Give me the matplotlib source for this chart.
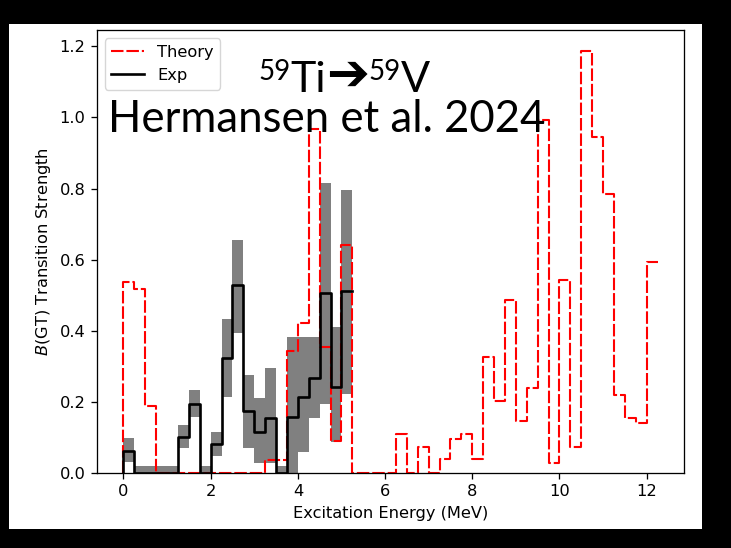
import matplotlib

matplotlib.use("Agg")
import matplotlib.pyplot as plt  # noqa: E402
import numpy as np  # noqa: E402
from matplotlib.patches import Rectangle  # noqa: E402

BIN_WIDTH = 0.25  # MeV

# shell-model B(GT) per 0.25 MeV bin, starting at 0 MeV
theory_bgt = [
    0.537, 0.517, 0.188, 0.0, 0.0, 0.0, 0.0, 0.0, 0.0, 0.0,
    0.0, 0.0, 0.0, 0.035, 0.035, 0.342, 0.423, 0.967, 0.355, 0.089,
    0.642, 0.0, 0.0, 0.0, 0.0, 0.108, 0.0, 0.072, 0.0, 0.040,
    0.096, 0.108, 0.040, 0.325, 0.202, 0.487, 0.147, 0.238, 0.993, 0.028,
    0.542, 0.072, 1.186, 0.944, 0.785, 0.219, 0.153, 0.141, 0.593,
]

# measured B(GT) and its uncertainty band, same binning
exp_bgt = [
    0.062, 0.0, 0.0, 0.0, 0.0, 0.101, 0.195, 0.0, 0.082, 0.323,
    0.529, 0.175, 0.116, 0.155, 0.0, 0.157, 0.212, 0.268, 0.505, 0.242,
    0.511,
]
exp_low = [
    0.031, 0.0, 0.0, 0.0, 0.0, 0.069, 0.157, 0.0, 0.047, 0.214,
    0.393, 0.069, 0.028, 0.028, 0.0, 0.0, 0.059, 0.153, 0.193, 0.087,
    0.222,
]
exp_high = [
    0.098, 0.020, 0.020, 0.020, 0.020, 0.134, 0.232, 0.020, 0.116, 0.433,
    0.655, 0.275, 0.210, 0.295, 0.020, 0.382, 0.382, 0.382, 0.816, 0.409,
    0.797,
]

x_ticks = [0, 2, 4, 6, 8, 10, 12]
y_ticks = [0.0, 0.2, 0.4, 0.6, 0.8, 1.0, 1.2]

W, H = 731, 548
SCALE = 1.17  # plot was exported larger than the default style

plt.rcParams.update({
    "font.size": 10 * SCALE,
    "axes.linewidth": 0.8 * SCALE,
    "axes.labelpad": 4.0 * SCALE,
    "xtick.major.size": 3.5 * SCALE,
    "ytick.major.size": 3.5 * SCALE,
    "xtick.major.width": 0.8 * SCALE,
    "ytick.major.width": 0.8 * SCALE,
    "xtick.major.pad": 3.5 * SCALE,
    "ytick.major.pad": 3.5 * SCALE,
})


def px(x, y):
    """pixel position (from top-left) -> figure fraction"""
    return x / W, 1 - y / H


def text_run(fig, x, y, pieces, renderer):
    """draw text pieces one after another along a line"""
    for s, size, dy, family in pieces:
        t = fig.text(x, y + dy / H, s, fontsize=size, family=family,
                     va="baseline", ha="left", color="black", zorder=5)
        x += t.get_window_extent(renderer).width / W


theory_edges = np.arange(len(theory_bgt) + 1) * BIN_WIDTH
exp_edges = np.arange(len(exp_bgt) + 1) * BIN_WIDTH

fig = plt.figure(figsize=(W / 100, H / 100), dpi=100, facecolor="black")
fig.patches.append(Rectangle(px(9, 529), 693 / W, 505 / H,
                             transform=fig.transFigure, facecolor="white",
                             edgecolor="none", zorder=-1))

ax = fig.add_axes((0.1324, 0.1372, 0.8037, 0.8075))
ax.step(theory_edges, np.r_[0.0, theory_bgt], where="pre", color="r",
        ls=(0, (6, 1.4)), lw=1.5, label="Theory")
ax.step(exp_edges, np.r_[0.0, exp_bgt], where="pre", color="k", lw=1.9,
        label="Exp")
ax.stairs(exp_high, exp_edges, baseline=exp_low, fill=True, color="gray",
          lw=0)

ax.set_xticks(x_ticks)
ax.set_yticks(y_ticks)
ax.set_xlabel("Excitation Energy (MeV)")
ax.set_ylabel("$B$(GT) Transition Strength")
ax.legend(loc="upper left")

renderer = fig.canvas.get_renderer()
sans = ["Lato", "DejaVu Sans"]
x0, y0 = px(258, 92)
text_run(fig, x0, y0, [
    ("59", 20, 12, sans),
    ("Ti", 31, 0, sans),
    ("\u2794", 37, 2, ["DejaVu Sans"]),
    ("59", 20, 12, sans),
    ("V", 31, 0, sans),
], renderer)
x1, y1 = px(108, 131.7)
fig.text(x1, y1, "Hermansen et al. 2024", fontsize=31.5, family=sans,
         va="baseline", ha="left", zorder=5)

fig.savefig("out.png", dpi=100, facecolor=fig.get_facecolor())
